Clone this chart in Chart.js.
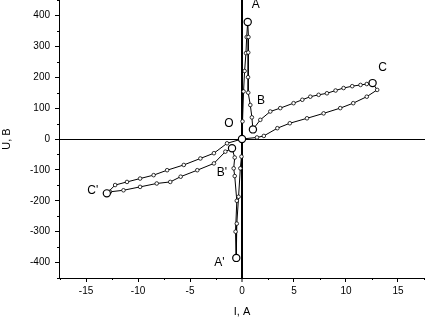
<!DOCTYPE html>
<html>
<head>
<meta charset="utf-8">
<script src="https://cdn.jsdelivr.net/npm/chart.js@4/dist/chart.umd.min.js"></script>
<style>
html,body{margin:0;padding:0;background:#fff;}
#wrap{width:425px;height:319px;position:relative;}
</style>
</head>
<body>
<div id="wrap"><canvas id="c"></canvas></div>
<script>
// Loop measurement: current I (A) and voltage U (V), in drawing order
const loopI = [0, 0.05, 0.15, 0.25, 0.38, 0.45, 0.55, 0.62, 0.6, 0.58, 0.6, 0.8, 0.95, 1.05,
  1.76, 2.72, 3.68, 4.96, 5.8, 6.57, 7.37, 8.17, 9.0, 9.77, 10.6, 11.4, 12.0, 12.56,
  13.0, 12.0, 10.7, 9.45, 7.85, 6.25, 4.6, 3.4, 2.1, 1.44, 0,
  -0.05, -0.16, -0.33, -0.5, -0.55, -0.62, -0.5, -0.7, -0.8, -0.7, -0.96,
  -1.6, -2.7, -4.3, -5.9, -6.9, -8.2, -9.8, -11.4, -12.7, -13,
  -12.2, -11.06, -9.8, -8.5, -7.2, -5.6, -4.0, -2.7, -1.44, 0];
const loopU = [0, 57, 154, 220, 278, 330, 379, 330, 280, 200, 150, 110, 70, 31,
  62, 89, 100, 116, 127, 137, 143, 148, 157, 165, 171, 175, 178, 181,
  159, 137, 116, 100, 83, 67, 51, 35, 10, 5, 0,
  -57, -95, -187, -274, -385, -300, -200, -120, -95, -60, -30,
  -41, -79, -101, -122, -139, -144, -155, -166, -171, -176,
  -149, -139, -128, -117, -101, -84, -63, -46, -14, 0];

// Marked points
const keyNames = ['O', 'A', 'B', 'C', "A'", "B'", "C'"];
const keyI = [0, 0.55, 1.05, 12.56, -0.55, -0.96, -13];
const keyU = [0, 379, 31, 181, -385, -30, -176];

// Tick values
const xTicks = [-15, -10, -5, 0, 5, 10, 15];
const yTicks = [-400, -300, -200, -100, 0, 100, 200, 300, 400];
const xMinor = [-17.5, -12.5, -7.5, -2.5, 2.5, 7.5, 12.5, 17.5];
const yMinor = [-450, -350, -250, -150, -50, 50, 150, 250, 350, 450];

const xTitle = 'I, A';
const yTitle = 'U, B';

// label placement (pixel offsets from the marked point)
const labelOffsets = {
  'O': [-13, -15], 'A': [8, -17], 'B': [8, -29], 'C': [10, -15],
  "A'": [-17, 5], "B'": [-10, 24], "C'": [-14, -3]
};

const FONT = "'Liberation Sans', Arial, sans-serif";

const loopData = loopI.map((v, i) => ({x: v, y: loopU[i]}));
const keyData = keyI.map((v, i) => ({x: v, y: keyU[i]}));

const labelPlugin = {
  id: 'labels',
  afterDraw(chart) {
    const ctx = chart.ctx;
    const xs = chart.scales.x, ys = chart.scales.y;
    ctx.save();
    ctx.strokeStyle = '#000';
    ctx.lineWidth = 1;
    ctx.beginPath();
    xMinor.forEach(v => {
      const px = Math.round(xs.getPixelForValue(v)) + 0.5;
      ctx.moveTo(px, ys.bottom);
      ctx.lineTo(px, ys.bottom + 2);
    });
    yMinor.forEach(v => {
      const py = Math.round(ys.getPixelForValue(v)) + 0.5;
      ctx.moveTo(xs.left - 2, py);
      ctx.lineTo(xs.left, py);
    });
    ctx.stroke();
    ctx.fillStyle = '#000';
    ctx.font = '12px ' + FONT;
    ctx.textAlign = 'center';
    ctx.textBaseline = 'middle';
    keyNames.forEach((n, i) => {
      const off = labelOffsets[n];
      const px = xs.getPixelForValue(keyI[i]) + off[0];
      const py = ys.getPixelForValue(keyU[i]) + off[1];
      ctx.fillText(n, px, py);
    });
    ctx.restore();
  }
};

new Chart(document.getElementById('c'), {
  type: 'scatter',
  data: {
    datasets: [
      {
        data: loopData,
        showLine: true,
        tension: 0,
        borderColor: '#000',
        borderWidth: 1,
        pointRadius: 1.8,
        pointBackgroundColor: '#fff',
        pointBorderColor: '#000',
        pointBorderWidth: 0.8,
        clip: false,
        order: 2
      },
      {
        data: keyData,
        showLine: false,
        pointRadius: 3.6,
        pointBackgroundColor: '#fff',
        pointBorderColor: '#000',
        pointBorderWidth: 1.2,
        clip: false,
        order: 1
      }
    ]
  },
  options: {
    responsive: true,
    maintainAspectRatio: false,
    animation: false,
    layout: {padding: 0, autoPadding: false},
    plugins: {legend: {display: false}, tooltip: {enabled: false}},
    scales: {
      x: {
        type: 'linear',
        min: -17.6, max: 17.6,
        afterBuildTicks: s => { s.ticks = xTicks.map(v => ({value: v})); },
        afterFit: s => { s.height = 41; s.paddingLeft = 0; s.paddingRight = 0; },
        border: {display: true, color: '#000', width: 1},
        grid: {
          drawOnChartArea: true,
          drawTicks: true,
          tickLength: 4,
          tickColor: '#000',
          tickWidth: 1,
          color: c => (c.tick && c.tick.value === 0) ? '#000' : 'rgba(0,0,0,0)',
          lineWidth: c => (c.tick && c.tick.value === 0) ? 2 : 1
        },
        ticks: {color: '#000', font: {family: FONT, size: 10}, padding: 3, maxRotation: 0, autoSkip: false},
        title: {display: true, text: xTitle, color: '#000', font: {family: FONT, size: 11}, padding: {top: 0, bottom: 0}}
      },
      y: {
        type: 'linear',
        min: -450, max: 450,
        afterBuildTicks: s => { s.ticks = yTicks.map(v => ({value: v})); },
        afterFit: s => { s.width = 59; s.paddingTop = 0; s.paddingBottom = 0; },
        border: {display: true, color: '#000', width: 1},
        grid: {
          drawOnChartArea: true,
          drawTicks: true,
          tickLength: 4,
          tickColor: '#000',
          tickWidth: 1,
          color: c => (c.tick && c.tick.value === 0) ? '#000' : 'rgba(0,0,0,0)',
          lineWidth: 1
        },
        ticks: {color: '#000', font: {family: FONT, size: 10}, padding: 5, autoSkip: false},
        title: {display: true, text: yTitle, color: '#000', font: {family: FONT, size: 11}, padding: {top: 0, bottom: 1}}
      }
    }
  },
  plugins: [labelPlugin]
});
</script>
</body>
</html>
